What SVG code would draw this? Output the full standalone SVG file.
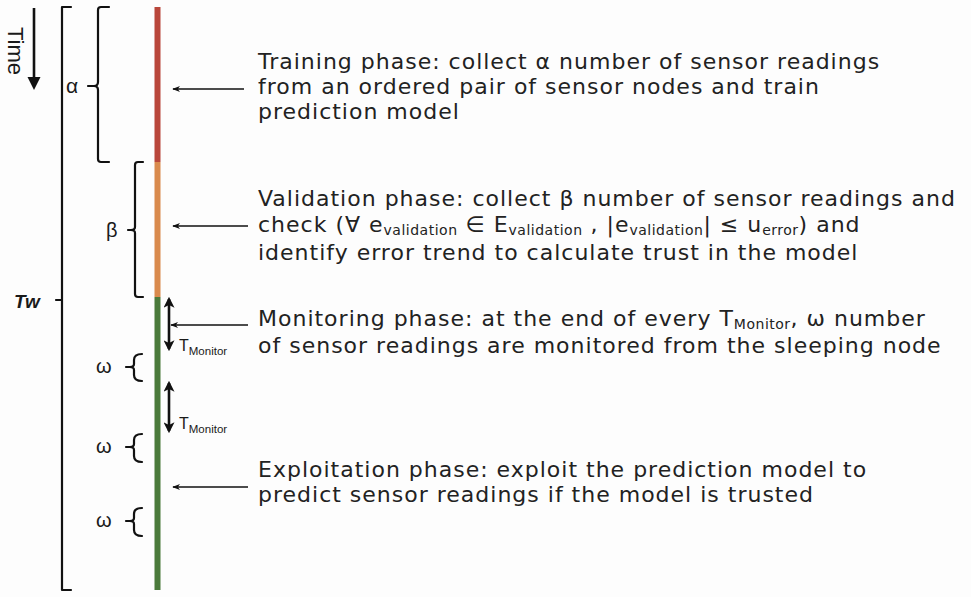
<svg xmlns="http://www.w3.org/2000/svg" width="971" height="597" viewBox="0 0 971 597">
  <defs>
    <!-- thin pointer head, drawn pointing along +x -->
    <marker id="head" viewBox="0 0 10 10" refX="9" refY="5" markerWidth="8" markerHeight="8" markerUnits="userSpaceOnUse" orient="auto-start-reverse">
      <path d="M10,5 L0,1 L3,5 L0,9 Z" fill="#111"/>
    </marker>
    <!-- bold head for the interval arrows -->
    <marker id="bold" viewBox="0 0 10 10" refX="8" refY="5" markerWidth="11" markerHeight="11" markerUnits="userSpaceOnUse" orient="auto-start-reverse">
      <path d="M10,5 L0,0 L2.5,5 L0,10 Z" fill="#111"/>
    </marker>
    <style>
      .txt { font-family: "DejaVu Sans", "Open Sans", sans-serif; font-size: 22px; letter-spacing: 1px; fill: #222; }
      .sub { font-size: 14px; letter-spacing: 0.5px; }
      .lbl { font-family: "Liberation Sans", Arial, sans-serif; fill: #1a1a1a; }
      .brk { fill: none; stroke: #111; stroke-width: 2.2; stroke-linecap: round; stroke-linejoin: round; }
      .ptr { fill: none; stroke: #111; stroke-width: 1.6; marker-start: url(#head); }
      .dbl { fill: none; stroke: #111; stroke-width: 2.6; marker-start: url(#bold); marker-end: url(#bold); }
    </style>
  </defs>
  <rect width="971" height="597" fill="#fdfdfd"/>

  <!-- time axis -->
  <g id="time">
    <text class="lbl" font-size="22" transform="translate(8,27) rotate(90)">Time</text>
    <line x1="34" y1="8" x2="34" y2="80" stroke="#111" stroke-width="2.6"/>
    <path d="M27.5,77 L40.5,77 L34,90 Z" fill="#111"/>
  </g>

  <!-- whole window bracket -->
  <g id="window">
    <path class="brk" d="M71,7 L62,7 L62,590 L71,590 M62,300 L56,300"/>
    <text class="lbl" x="14" y="308" font-size="19" font-weight="bold" font-style="italic">Tw</text>
  </g>

  <!-- coloured phase bar -->
  <g id="bar">
    <rect x="154.5" y="7" width="6" height="155" fill="#b9473b"/>
    <rect x="154.5" y="162" width="6" height="135" fill="#d98a4d"/>
    <rect x="154.5" y="297" width="6" height="293" fill="#4b7a3b"/>
  </g>

  <!-- alpha bracket -->
  <g id="alpha">
    <path class="brk" d="M109,7 L101,7 Q98,7 98,10 L98,82 Q98,86 94,86 L88,86 M94,86 Q98,86 98,90 L98,159 Q98,162 101,162 L109,162"/>
    <text class="lbl" x="66" y="93" font-size="21">α</text>
  </g>

  <!-- beta bracket -->
  <g id="beta">
    <path class="brk" d="M143,162 L138,162 Q135,162 135,165 L135,227 Q135,230 131,230 L128,230 M131,230 Q135,230 135,233 L135,294 Q135,297 138,297 L143,297"/>
    <text class="lbl" x="106" y="237" font-size="20">β</text>
  </g>

  <!-- omega brackets -->
  <g id="omega1">
    <path class="brk" d="M142,354 Q134,354 134,360 L134,364 Q134,367 130,367 L126,367 M130,367 Q134,367 134,370 L134,375 Q134,381 142,381"/>
    <text class="lbl" x="96" y="373" font-size="20">ω</text>
  </g>
  <g id="omega2">
    <path class="brk" d="M142,434 Q134,434 134,440 L134,444 Q134,447 130,447 L126,447 M130,447 Q134,447 134,450 L134,456 Q134,462 142,462"/>
    <text class="lbl" x="96" y="453" font-size="20">ω</text>
  </g>
  <g id="omega3">
    <path class="brk" d="M142,508 Q134,508 134,514 L134,518 Q134,521 130,521 L126,521 M130,521 Q134,521 134,524 L134,530 Q134,536 142,536"/>
    <text class="lbl" x="96" y="527" font-size="20">ω</text>
  </g>

  <!-- monitoring intervals -->
  <g id="tmonitor1">
    <line class="dbl" x1="169" y1="299" x2="169" y2="349"/>
    <text class="lbl" x="179" y="351" font-size="16">T<tspan font-size="11.5" dy="4">Monitor</tspan></text>
  </g>
  <g id="tmonitor2">
    <line class="dbl" x1="169" y1="383" x2="169" y2="431"/>
    <text class="lbl" x="179" y="429" font-size="16">T<tspan font-size="11.5" dy="4">Monitor</tspan></text>
  </g>

  <!-- pointers from descriptions to the bar -->
  <g id="connectors">
    <line class="ptr" x1="173" y1="89" x2="244" y2="89"/>
    <line class="ptr" x1="173" y1="226" x2="248" y2="226"/>
    <line class="ptr" x1="171" y1="325" x2="248" y2="325"/>
    <line class="ptr" x1="173" y1="487" x2="248" y2="487"/>
  </g>

  <!-- phase descriptions -->
  <g id="training">
    <text class="txt" x="258" y="69">Training phase: collect α number of sensor readings</text>
    <text class="txt" x="258" y="94">from an ordered pair of sensor nodes and train</text>
    <text class="txt" x="258" y="119">prediction model</text>
  </g>

  <g id="validation">
    <text class="txt" x="258" y="206">Validation phase: collect β number of sensor readings and</text>
    <text class="txt" x="258" y="232">check (∀ e<tspan class="sub" dy="3">validation</tspan><tspan dy="-3"> ∈ E</tspan><tspan class="sub" dy="3">validation</tspan><tspan dy="-3"> , |e</tspan><tspan class="sub" dy="3">validation</tspan><tspan dy="-3">| ≤ u</tspan><tspan class="sub" dy="3">error</tspan><tspan dy="-3">) and</tspan></text>
    <text class="txt" x="258" y="260">identify error trend to calculate trust in the model</text>
  </g>

  <g id="monitoring">
    <text class="txt" x="258" y="326">Monitoring phase: at the end of every T<tspan class="sub" dy="3">Monitor</tspan><tspan dy="-3">, ω number</tspan></text>
    <text class="txt" x="258" y="353">of sensor readings are monitored from the sleeping node</text>
  </g>

  <g id="exploitation">
    <text class="txt" x="258" y="477">Exploitation phase: exploit the prediction model to</text>
    <text class="txt" x="258" y="502">predict sensor readings if the model is trusted</text>
  </g>
</svg>
